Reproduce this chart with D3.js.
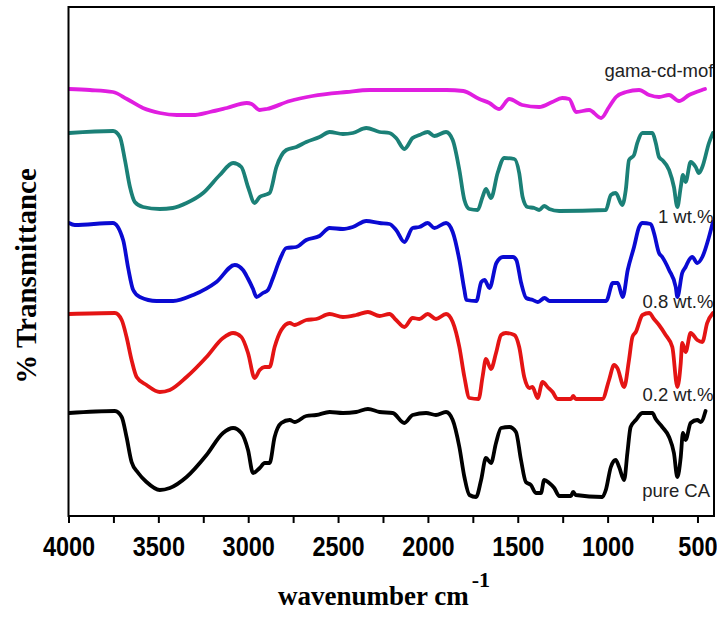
<!DOCTYPE html>
<html>
<head>
<meta charset="utf-8">
<script src="https://cdn.jsdelivr.net/npm/d3@7"></script>
<style>
  html, body { margin: 0; padding: 0; background: #fff; }
  svg { display: block; }
</style>
</head>
<body>
<svg id="chart" width="717" height="617"></svg>
<script>
// FTIR spectra, stacked (transmittance in arbitrary units with vertical offsets)
const wavenumberTicks = [4000, 3500, 3000, 2500, 2000, 1500, 1000, 500];
const minorTicks = [3750, 3250, 2750, 2250, 1750, 1250, 750];

const seriesNames = ["gama-cd-mof", "1 wt.%", "0.8 wt.%", "0.2 wt.%", "pure CA"];
const seriesColors = ["#e01ee0", "#1b8077", "#0a0ad2", "#e41414", "#000000"];

const gamaCdMof = [
  [3997,427],[3881,426],[3753,424],[3675,417],[3586,408],[3492,403],[3397,401],[3308,401],
  [3214,404],[3119,408],[3008,413],[2981,412],[2936,406],[2897,407],[2769,415],[2642,420],
  [2453,424],[2325,426],[2086,426],[1897,426],[1803,425],[1714,417],[1658,413],[1603,407],
  [1547,417],[1475,411],[1381,409],[1308,414],[1253,418],[1214,417],[1175,404],[1103,406],
  [1036,398],[992,409],[953,419],[897,424],[825,426],[769,421],[714,419],[658,421],
  [603,415],[547,421],[475,426],[458,427]
];

const wt1 = [
  [3997,383],[3752,385],[3714,379],[3686,356],[3658,329],[3631,314],[3585,309],[3492,307],
  [3420,308],[3343,313],[3251,323],[3158,341],[3084,353],[3038,349],[3001,329],[2964,313],
  [2936,319],[2908,321],[2881,323],[2843,349],[2788,366],[2732,369],[2677,374],[2603,379],
  [2547,384],[2473,382],[2418,383],[2343,388],[2269,384],[2214,383],[2177,378],[2131,367],
  [2085,378],[2047,381],[2001,384],[1964,380],[1899,384],[1862,376],[1825,346],[1797,316],
  [1769,307],[1723,306],[1696,319],[1677,327],[1649,318],[1612,343],[1575,358],[1519,357],
  [1492,343],[1473,319],[1446,309],[1408,308],[1381,306],[1353,310],[1325,307],[1269,305],
  [1010,306],[982,321],[955,323],[918,311],[899,326],[881,356],[853,361],[835,373],
  [806,383],[751,383],[732,373],[714,359],[696,356],[658,346],[631,329],[612,309],
  [593,329],[581,341],[566,334],[538,354],[510,349],[492,343],[473,349],[436,373],[414,383]
];

const wt08 = [
  [3997,293],[3965,291],[3753,293],[3696,276],[3668,248],[3640,226],[3603,219],[3510,215],
  [3418,215],[3306,221],[3177,234],[3075,251],[3029,246],[3003,238],[2973,227],[2954,219],
  [2918,223],[2890,226],[2862,238],[2825,256],[2788,268],[2732,269],[2677,276],[2603,280],
  [2547,288],[2473,287],[2418,289],[2343,295],[2269,293],[2214,292],[2177,286],[2131,274],
  [2085,288],[2047,289],[2001,293],[1964,288],[1899,293],[1862,284],[1825,256],[1797,226],
  [1786,216],[1730,215],[1703,234],[1685,236],[1657,228],[1619,253],[1582,259],[1527,259],
  [1508,256],[1481,233],[1453,218],[1416,216],[1388,214],[1351,218],[1323,215],[1008,215],
  [971,233],[944,233],[916,219],[888,246],[853,269],[825,289],[806,293],[760,292],
  [742,283],[714,263],[696,259],[658,246],[621,229],[612,219],[585,243],[566,249],
  [547,256],[529,259],[501,253],[473,259],[436,279],[414,294]
];

const wt02 = [
  [3997,202],[3742,203],[3704,196],[3677,179],[3649,156],[3621,139],[3566,131],[3492,124],
  [3436,126],[3343,139],[3232,159],[3140,178],[3084,183],[3038,179],[3001,163],[2964,138],
  [2936,146],[2908,149],[2881,149],[2853,169],[2816,186],[2769,193],[2742,191],[2677,196],
  [2621,197],[2547,202],[2473,199],[2399,201],[2334,204],[2269,200],[2214,202],[2177,196],
  [2131,189],[2085,198],[2047,197],[2001,202],[1955,197],[1899,202],[1862,194],[1825,169],
  [1797,139],[1769,118],[1718,117],[1696,139],[1677,157],[1649,147],[1621,163],[1593,181],
  [1566,183],[1519,181],[1492,169],[1464,139],[1436,128],[1418,129],[1390,118],[1362,134],
  [1334,129],[1306,124],[1279,117],[1204,117],[1192,120],[1177,117],[1029,117],[992,136],
  [964,151],[946,148],[908,129],[881,156],[862,179],[843,184],[806,201],[769,203],
  [742,197],[714,191],[677,181],[640,169],[612,129],[593,153],[585,173],[566,164],
  [538,183],[501,176],[473,174],[446,193],[414,203]
];

const pureCA = [
  [3997,103],[3742,105],[3704,99],[3677,79],[3649,54],[3612,43],[3566,34],[3492,26],
  [3436,28],[3343,39],[3232,61],[3140,83],[3084,88],[3038,83],[3001,66],[2973,43],
  [2936,48],[2908,53],[2881,53],[2853,79],[2816,93],[2769,96],[2742,94],[2677,100],
  [2621,101],[2547,104],[2473,103],[2399,104],[2334,107],[2269,104],[2196,103],[2131,93],
  [2085,101],[2010,103],[1955,101],[1899,104],[1862,96],[1825,69],[1797,39],[1769,21],
  [1732,19],[1704,36],[1677,58],[1649,53],[1621,73],[1593,88],[1547,89],[1510,84],
  [1482,56],[1455,34],[1427,31],[1399,23],[1371,23],[1353,36],[1325,33],[1297,28],
  [1269,20],[1204,20],[1192,24],[1177,21],[1029,19],[1010,26],[982,49],[955,56],
  [936,49],[908,36],[890,63],[872,89],[843,96],[806,103],[751,103],[732,97],
  [696,89],[658,79],[631,63],[612,39],[593,59],[581,83],[566,76],[538,93],
  [501,96],[482,94],[455,105]
];

const seriesData = [gamaCdMof, wt1, wt08, wt02, pureCA];

// label anchors: [wavenumber at right edge of text, value at baseline]
const labelAnchors = [[411, 439], [411, 293], [411, 208], [411, 115], [430, 19]];

const svg = d3.select("#chart");
const plot = { left: 68.5, right: 714, top: 7, bottom: 516 };

const x = d3.scaleLinear().domain([4000, 408]).range([plot.left, plot.right]);
const y = d3.scaleLinear().domain([0, 509]).range([plot.bottom, plot.top]);

const line = d3.line()
  .x(d => x(d[0]))
  .y(d => y(d[1]))
  .curve(d3.curveMonotoneX);

svg.append("clipPath").attr("id", "plot-clip")
  .append("rect")
  .attr("x", plot.left).attr("y", plot.top)
  .attr("width", plot.right - plot.left).attr("height", plot.bottom - plot.top);

const curves = svg.append("g").attr("clip-path", "url(#plot-clip)");
seriesData.forEach((data, i) => {
  curves.append("path")
    .datum(data)
    .attr("fill", "none")
    .attr("stroke", seriesColors[i])
    .attr("stroke-width", 3.8)
    .attr("stroke-linejoin", "round")
    .attr("stroke-linecap", "round")
    .attr("d", line);
});

// series labels
seriesNames.forEach((name, i) => {
  svg.append("text")
    .attr("x", x(labelAnchors[i][0]))
    .attr("y", y(labelAnchors[i][1]))
    .attr("text-anchor", "end")
    .attr("font-family", "Liberation Sans, Arial, sans-serif")
    .attr("font-size", 18.5)
    .attr("fill", "#222")
    .text(name);
});

// bottom axis with major and minor ticks
const xAxis = d3.axisBottom(x)
  .tickValues(wavenumberTicks)
  .tickSize(7)
  .tickPadding(0)
  .tickFormat(d3.format("d"));

const axisG = svg.append("g")
  .attr("transform", `translate(0,${plot.bottom})`)
  .call(xAxis);
axisG.select(".domain").remove();
axisG.selectAll(".tick line").attr("stroke", "#000").attr("stroke-width", 2);
axisG.selectAll(".tick text")
  .attr("y", 0)
  .attr("dy", 0)
  .attr("transform", "translate(0,40) scale(0.87,1)")
  .attr("font-family", "Liberation Sans, Arial, sans-serif")
  .attr("font-weight", "bold")
  .attr("font-size", 27)
  .attr("fill", "#000");

const minorAxis = d3.axisBottom(x).tickValues(minorTicks).tickSize(7).tickFormat("");
const minorG = svg.append("g")
  .attr("transform", `translate(0,${plot.bottom})`)
  .call(minorAxis);
minorG.select(".domain").remove();
minorG.selectAll(".tick line").attr("stroke", "#000").attr("stroke-width", 2);

// frame
svg.append("rect")
  .attr("x", plot.left).attr("y", plot.top)
  .attr("width", plot.right - plot.left).attr("height", plot.bottom - plot.top)
  .attr("fill", "none")
  .attr("stroke", "#000")
  .attr("stroke-width", 2);

// axis titles
const xTitle = svg.append("text")
  .attr("x", 278)
  .attr("y", 605)
  .attr("font-family", "Liberation Serif, Times New Roman, serif")
  .attr("font-weight", "bold")
  .attr("font-size", 27)
  .attr("fill", "#000");
xTitle.append("tspan").text("wavenumber cm");
xTitle.append("tspan")
  .attr("dy", -18)
  .attr("dx", 3)
  .attr("font-size", 22)
  .text("-1");

svg.append("text")
  .attr("transform", "translate(36,276) rotate(-90)")
  .attr("text-anchor", "middle")
  .attr("font-family", "Liberation Serif, Times New Roman, serif")
  .attr("font-weight", "bold")
  .attr("font-size", 29)
  .attr("fill", "#000")
  .text("% Transmittance");
</script>
</body>
</html>
